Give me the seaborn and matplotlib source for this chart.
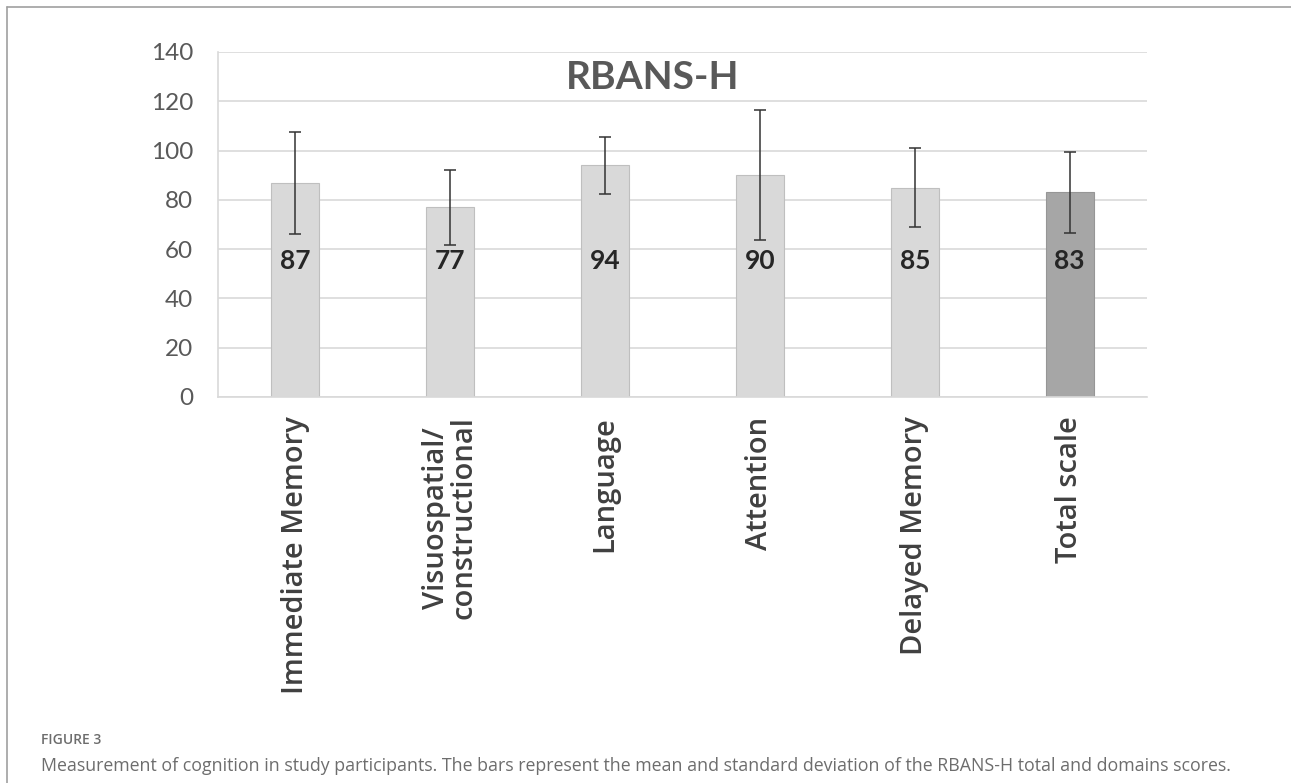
import matplotlib
matplotlib.use("Agg")
import matplotlib.pyplot as plt
from matplotlib.lines import Line2D
import seaborn as sns
import pandas as pd

# RBANS-H domain and total scores: mean and standard deviation
domains = ["Immediate Memory", "Visuospatial/\nconstructional", "Language",
           "Attention", "Delayed Memory", "Total scale"]
means = [87, 77, 94, 90, 85, 83]
sds = [20.7, 15.2, 11.5, 26.4, 16.0, 16.6]
y_ticks = [0, 20, 40, 60, 80, 100, 120, 140]

df = pd.DataFrame({"domain": domains, "mean": means, "sd": sds})

sns.set_theme(style="white")
plt.rcParams["font.family"] = ["Lato", "DejaVu Sans"]

fig = plt.figure(figsize=(12.91, 7.83), dpi=100)
ax = fig.add_axes([0.1689, 0.4930, 0.7196, 0.4406])

palette = {d: "#d9d9d9" for d in domains[:-1]}
palette[domains[-1]] = "#a6a6a6"

sns.barplot(data=df, x="domain", y="mean", hue="domain", palette=palette,
            width=0.31, legend=False, ax=ax, edgecolor="#bfbfbf",
            linewidth=0.8, saturation=1, zorder=2)
for p, d in zip(ax.patches, domains):
    if d == domains[-1]:
        p.set_edgecolor("#969696")

ax.errorbar(range(len(domains)), df["mean"], yerr=df["sd"], fmt="none",
            ecolor="#333333", elinewidth=1.1, capsize=4, capthick=1.1, zorder=3)

for i, m in enumerate(means):
    ax.text(i, 55, f"{m}", ha="center", va="center", fontsize=19,
            fontweight="bold", color="#262626", zorder=4)

ax.set_ylim(0, 140)
ax.set_xlim(-0.5, len(domains) - 0.5)
ax.set_yticks(y_ticks)
ax.set_yticklabels([str(t) for t in y_ticks], fontsize=17.5, color="#595959")
ax.yaxis.grid(True, color="#d9d9d9", linewidth=1.2, zorder=0)
ax.set_axisbelow(True)
ax.tick_params(axis="y", length=0, pad=18)
ax.tick_params(axis="x", length=0, pad=14)
ax.set_xticks(range(len(domains)))
ax.set_xticklabels(domains, rotation=90, fontsize=21, fontweight="semibold",
                   color="#404040", va="top", ha="center", linespacing=0.92,
                   family=["Open Sans", "DejaVu Sans"])
ax.set_xlabel("")
ax.set_ylabel("")
for side in ["top", "right"]:
    ax.spines[side].set_visible(False)
ax.spines["left"].set_color("#d9d9d9")
ax.spines["left"].set_linewidth(1.2)
ax.spines["bottom"].set_color("#d9d9d9")
ax.spines["bottom"].set_linewidth(1.2)

ax.text(0.468, 129.5, "RBANS-H", transform=ax.get_yaxis_transform(),
        ha="center", va="center", fontsize=28, fontweight="bold",
        color="#595959", zorder=4)

# figure frame (top and left edges)
fig.add_artist(Line2D([7 / 1291, 1], [1 - 7 / 783, 1 - 7 / 783],
                      transform=fig.transFigure, color="#a0a0a0", linewidth=1.2))
fig.add_artist(Line2D([7 / 1291, 7 / 1291], [0, 1 - 7 / 783],
                      transform=fig.transFigure, color="#a0a0a0", linewidth=1.2))

fig.text(41 / 1291, 1 - 740 / 783, "FIGURE 3", ha="left", va="center",
         fontsize=10, fontweight="semibold", color="#6d6d6d",
         family=["Open Sans", "DejaVu Sans"])
fig.text(41 / 1291, 1 - 766 / 783,
         "Measurement of cognition in study participants. The bars represent the mean "
         "and standard deviation of the RBANS-H total and domains scores.",
         ha="left", va="center", fontsize=12.8, color="#6d6d6d",
         family=["Open Sans", "DejaVu Sans"])

fig.savefig("out.png", dpi=100)
